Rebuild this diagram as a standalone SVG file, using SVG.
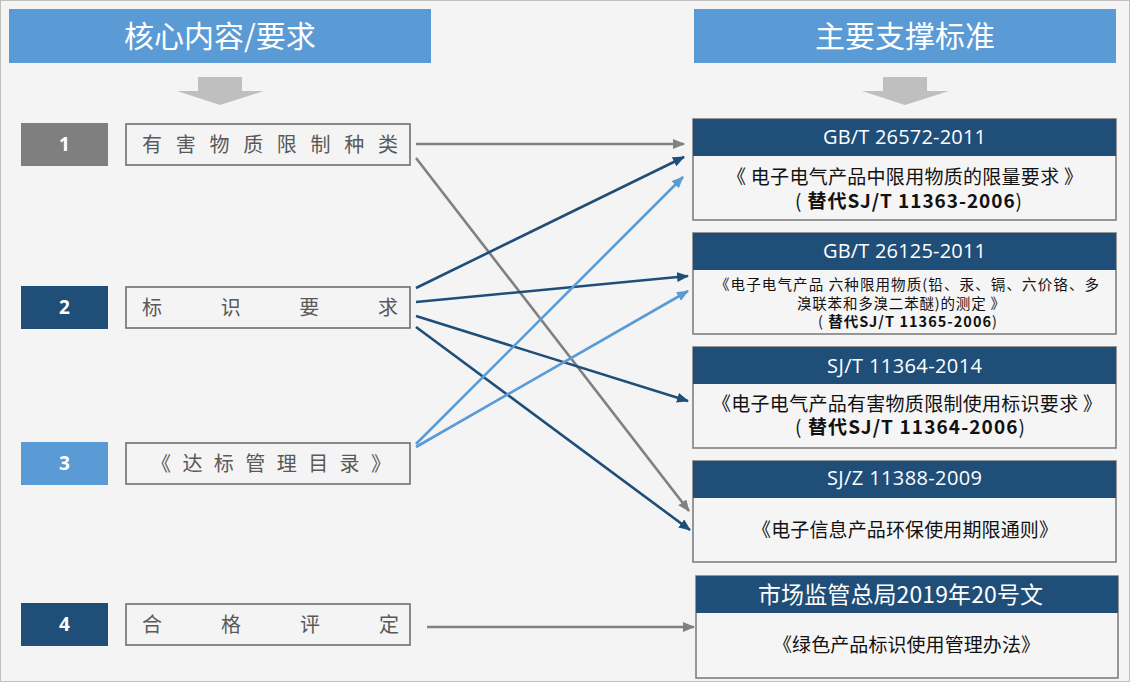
<svg xmlns="http://www.w3.org/2000/svg" width="1130" height="682" viewBox="0 0 1130 682">
<style>
.hdr{fill:#5b9bd5}
.hdrt{font-family:"Noto Sans CJK SC","Noto Sans",sans-serif;font-size:30px;fill:#fff;text-anchor:middle}
.num{font-family:"Open Sans","Noto Sans",sans-serif;font-size:19px;font-weight:700;fill:#fff;text-anchor:middle}
.lbl{fill:none;stroke:#6e6e6e;stroke-width:1.6}
.lblt{font-family:"Noto Sans CJK SC",sans-serif;font-size:20px;fill:#595959}
.sh{fill:#1f4e79}
.sb{fill:#f5f5f5;stroke:#7f7f7f;stroke-width:1.6}
.sht{font-family:"Open Sans","Noto Sans CJK SC",sans-serif;font-size:20px;fill:#fff}
.bt{font-family:"Noto Sans CJK SC",sans-serif;font-size:19px;fill:#111}
.bs{font-family:"Noto Sans CJK SC",sans-serif;font-size:14.5px;fill:#111}
.b{font-weight:700}
.c{fill:none;stroke-width:2.6}
.cg{stroke:#808080}
.cd{stroke:#1f4e79}
.cl{stroke:#5b9bd5}
</style>
<defs>
<marker id="ag" markerUnits="userSpaceOnUse" markerWidth="12" markerHeight="10" refX="11" refY="5" orient="auto"><path d="M0,0 L12,5 L0,10 Z" fill="#808080"/></marker>
<marker id="ad" markerUnits="userSpaceOnUse" markerWidth="12" markerHeight="10" refX="11" refY="5" orient="auto"><path d="M0,0 L12,5 L0,10 Z" fill="#1f4e79"/></marker>
<marker id="al" markerUnits="userSpaceOnUse" markerWidth="12" markerHeight="10" refX="11" refY="5" orient="auto"><path d="M0,0 L12,5 L0,10 Z" fill="#5b9bd5"/></marker>
</defs>
<rect x="0.5" y="0.5" width="1129" height="681" fill="#f4f4f4" stroke="#bfbfbf"/>

<g id="header-left">
<rect class="hdr" x="9" y="9" width="422" height="54"/>
<text class="hdrt" x="220" y="47">核心内容/要求</text>
<path d="M198,77 H242 V91 H264 L220,105 L177,91 H198 Z" fill="#bfbfbf"/>
</g>
<g id="header-right">
<rect class="hdr" x="694" y="9" width="422" height="54"/>
<text class="hdrt" x="905" y="47">主要支撑标准</text>
<path d="M883,77 H927 V91 H949 L905,105 L862,91 H883 Z" fill="#bfbfbf"/>
</g>

<g id="item1">
<rect x="21" y="123" width="87" height="43" fill="#7f7f7f"/>
<text class="num" x="64.5" y="151">1</text>
<rect class="lbl" x="126" y="124" width="284" height="41"/>
<text class="lblt" x="142" y="152" textLength="256" lengthAdjust="spacing">有害物质限制种类</text>
</g>
<g id="item2">
<rect x="21" y="286" width="87" height="43" fill="#1f4e79"/>
<text class="num" x="64.5" y="314">2</text>
<rect class="lbl" x="126" y="287" width="284" height="41"/>
<text class="lblt" x="142" y="315" textLength="256" lengthAdjust="spacing">标识要求</text>
</g>
<g id="item3">
<rect x="21" y="442" width="87" height="43" fill="#5b9bd5"/>
<text class="num" x="64.5" y="470">3</text>
<rect class="lbl" x="126" y="443" width="284" height="41"/>
<text class="lblt" x="151" y="471" textLength="240" lengthAdjust="spacing">《达标管理目录》</text>
</g>
<g id="item4">
<rect x="21" y="603" width="87" height="43" fill="#1f4e79"/>
<text class="num" x="64.5" y="631">4</text>
<rect class="lbl" x="126" y="604" width="284" height="41"/>
<text class="lblt" x="142" y="632" textLength="257" lengthAdjust="spacing">合格评定</text>
</g>

<g id="std1">
<rect class="sb" x="693" y="119" width="423" height="101"/>
<rect class="sh" x="693" y="119" width="423" height="37"/>
<text class="sht" x="143" y="144" dx="680" textLength="163" lengthAdjust="spacing">GB/T 26572-2011</text>
<text class="bt" x="727" y="184" textLength="356" lengthAdjust="spacing">《 电子电气产品中限用物质的限量要求 》</text>
<text class="bt" x="795" y="208" textLength="227" lengthAdjust="spacing">( <tspan class="b">替代SJ/T 11363-2006</tspan>)</text>
</g>
<g id="std2">
<rect class="sb" x="693" y="233" width="423" height="101"/>
<rect class="sh" x="693" y="233" width="423" height="37"/>
<text class="sht" x="823" y="258" textLength="163" lengthAdjust="spacing">GB/T 26125-2011</text>
<text class="bs" x="715" y="290" textLength="384" lengthAdjust="spacing">《电子电气产品 六种限用物质(铅、汞、镉、六价铬、多</text>
<text class="bs" x="797" y="309" textLength="208" lengthAdjust="spacing">溴联苯和多溴二苯醚)的测定 》</text>
<text class="bs" x="818" y="327" textLength="179" lengthAdjust="spacing">( <tspan class="b">替代SJ/T 11365-2006</tspan>)</text>
</g>
<g id="std3">
<rect class="sb" x="693" y="347" width="423" height="101"/>
<rect class="sh" x="693" y="347" width="423" height="37"/>
<text class="sht" x="827" y="373" textLength="155" lengthAdjust="spacing">SJ/T 11364-2014</text>
<text class="bt" x="712" y="411" textLength="390" lengthAdjust="spacing">《电子电气产品有害物质限制使用标识要求 》</text>
<text class="bt" x="795" y="434" textLength="230" lengthAdjust="spacing">( <tspan class="b">替代SJ/T 11364-2006</tspan>)</text>
</g>
<g id="std4">
<rect class="sb" x="693" y="461" width="423" height="101"/>
<rect class="sh" x="693" y="461" width="423" height="37"/>
<text class="sht" x="827" y="485" textLength="155" lengthAdjust="spacing">SJ/Z 11388-2009</text>
<text class="bt" x="752" y="537" textLength="306" lengthAdjust="spacing">《电子信息产品环保使用期限通则》</text>
</g>
<g id="std5">
<rect class="sb" x="696" y="576" width="422" height="102"/>
<rect class="sh" x="696" y="576" width="422" height="37"/>
<text class="sht" x="758" y="603" textLength="285" lengthAdjust="spacing" style="font-size:23px;font-family:'Noto Sans CJK SC',sans-serif">市场监管总局2019年20号文</text>
<text class="bt" x="773" y="652" textLength="267" lengthAdjust="spacing">《绿色产品标识使用管理办法》</text>
</g>

<g id="connectors">
<line class="c cg" x1="416" y1="144" x2="684" y2="144" marker-end="url(#ag)"/>
<line class="c cg" x1="416" y1="158" x2="689" y2="511" marker-end="url(#ag)"/>
<line class="c cd" x1="416" y1="288" x2="684" y2="157" marker-end="url(#ad)"/>
<line class="c cd" x1="416" y1="302" x2="688" y2="276" marker-end="url(#ad)"/>
<line class="c cd" x1="416" y1="316" x2="688" y2="401" marker-end="url(#ad)"/>
<line class="c cd" x1="416" y1="327" x2="690" y2="530" marker-end="url(#ad)"/>
<line class="c cl" x1="416" y1="444" x2="683" y2="177" marker-end="url(#al)"/>
<line class="c cl" x1="416" y1="447" x2="688" y2="291" marker-end="url(#al)"/>
<line class="c cg" x1="427" y1="627" x2="694" y2="627" marker-end="url(#ag)"/>
</g>
</svg>
